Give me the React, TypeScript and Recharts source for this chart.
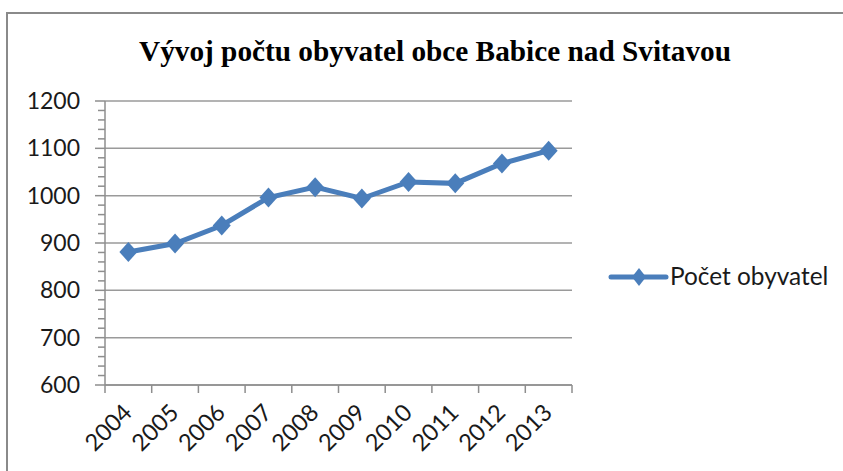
import React from 'react';
import { LineChart, Line, XAxis, YAxis, CartesianGrid } from 'recharts';

const years = ['2004', '2005', '2006', '2007', '2008', '2009', '2010', '2011', '2012', '2013'];
const population = [881, 899, 937, 996, 1018, 994, 1029, 1026, 1068, 1095];
const yMajor = [600, 700, 800, 900, 1000, 1100, 1200];
const yAllTicks = [
  600, 620, 640, 660, 680, 700, 720, 740, 760, 780, 800, 820, 840, 860, 880, 900, 920, 940, 960, 980,
  1000, 1020, 1040, 1060, 1080, 1100, 1120, 1140, 1160, 1180, 1200,
];

const data = years.map((year, i) => ({ year, value: population[i] }));

const W = 843;
const H = 471;
const PLOT_LEFT = 105;
const PLOT_RIGHT = 572;
const BAND = (PLOT_RIGHT - PLOT_LEFT) / years.length;
const BLUE = '#4a7ebb';
const AXIS = '#8e8e8e';
const FONT = 'Lato, "Noto Sans", sans-serif';

const YTick = (props: any) => {
  const { x, y, payload } = props;
  const major = payload.value % 100 === 0;
  return (
    <g>
      <line x1={x - (major ? 10 : 7)} x2={x} y1={y} y2={y} stroke={AXIS} strokeWidth={1.5} />
      {major && (
        <text x={80} y={y} dy={8} textAnchor="end" fontSize={23} fontFamily={FONT} fill="#1a1a1a">
          {payload.value}
        </text>
      )}
    </g>
  );
};

const XTick = (props: any) => {
  const { x, y, payload, index } = props;
  return (
    <g>
      {index === 0 && <line x1={x - BAND / 2} x2={x - BAND / 2} y1={y} y2={y + 8} stroke={AXIS} strokeWidth={1.5} />}
      <line x1={x + BAND / 2} x2={x + BAND / 2} y1={y} y2={y + 8} stroke={AXIS} strokeWidth={1.5} />
      <text
        x={x + 5}
        y={y + 29}
        textAnchor="end"
        fontSize={23.5}
        fontFamily={FONT}
        fill="#1a1a1a"
        transform={`rotate(-45 ${x + 5} ${y + 29})`}
      >
        {payload.value}
      </text>
    </g>
  );
};

const Diamond = (props: any) => {
  const { cx, cy } = props;
  if (cx == null || cy == null) return null;
  return <path d={`M${cx},${cy - 10} L${cx + 9},${cy} L${cx},${cy + 10} L${cx - 9},${cy} Z`} fill={BLUE} />;
};

export default function App() {
  return (
    <div style={{ position: 'absolute', left: 0, top: 0, width: W, height: H, background: '#fff', overflow: 'hidden' }}>
      <div
        style={{
          position: 'absolute',
          left: 6,
          top: 12,
          width: W,
          height: H,
          borderTop: '2px solid #8a8a8a',
          borderLeft: '2px solid #8a8a8a',
        }}
      />
      <svg width={W} height={80} style={{ position: 'absolute', left: 0, top: 0 }}>
        <text
          x={139}
          y={61}
          fontSize={30}
          fontWeight="bold"
          fontFamily='"Liberation Serif", "Times New Roman", serif'
          fill="#000"
          textLength={592}
          lengthAdjust="spacingAndGlyphs"
        >
          Vývoj počtu obyvatel obce Babice nad Svitavou
        </text>
      </svg>
      <div style={{ position: 'absolute', left: 0, top: 0 }}>
        <LineChart width={W} height={H} data={data} margin={{ top: 101, right: W - PLOT_RIGHT, bottom: 0, left: 0 }}>
          <CartesianGrid vertical={false} horizontalValues={yMajor} stroke="#9a9a9a" strokeWidth={1.5} />
          <XAxis
            dataKey="year"
            scale="band"
            height={86}
            tickSize={0}
            tickMargin={0}
            tickLine={false}
            axisLine={{ stroke: AXIS, strokeWidth: 1.5 }}
            tick={<XTick />}
            interval={0}
          />
          <YAxis
            width={PLOT_LEFT}
            domain={[600, 1200]}
            ticks={yAllTicks}
            interval={0}
            tickSize={0}
            tickMargin={0}
            tickLine={false}
            axisLine={{ stroke: AXIS, strokeWidth: 1.5 }}
            tick={<YTick />}
          />
          <Line
            type="linear"
            dataKey="value"
            stroke={BLUE}
            strokeWidth={5}
            dot={<Diamond />}
            activeDot={false}
            isAnimationActive={false}
          />
        </LineChart>
      </div>
      <svg width={240} height={40} style={{ position: 'absolute', left: 605, top: 257 }}>
        <line x1={6} x2={61} y1={20} y2={20} stroke={BLUE} strokeWidth={5} strokeLinecap="round" />
        <path d="M34,11 L41,20 L34,29 L27,20 Z" fill={BLUE} />
        <text x={65} y={28} fontSize={24.4} fontFamily={FONT} fill="#1a1a1a">
          Počet obyvatel
        </text>
      </svg>
    </div>
  );
}
